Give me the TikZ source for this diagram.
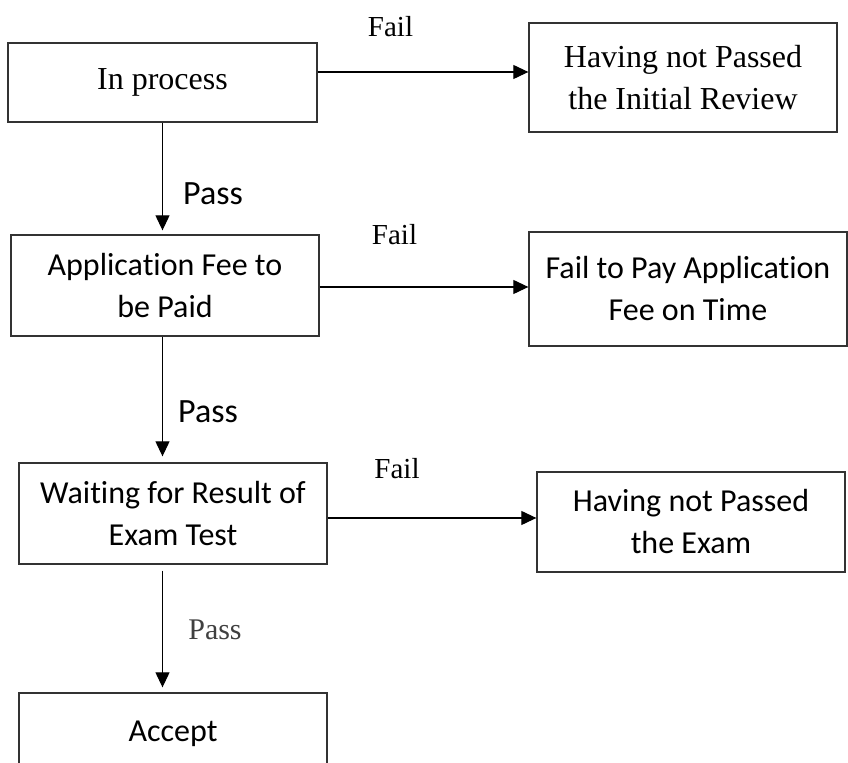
\documentclass[tikz,border=0pt]{standalone}
\usepackage{fontspec}
\setmainfont{Liberation Serif}
\newfontfamily\calibri[RawFeature={-liga;-clig;-calt}]{Carlito}
\usetikzlibrary{arrows.meta}
\begin{document}
\begin{tikzpicture}[x=.5pt,y=-.5pt,
	box/.style={draw=black!80,line width=.65pt,minimum width=154pt,inner sep=0pt,align=center,font=\fontsize{16}{21}\selectfont},
	sbox/.style={box,font=\calibri\fontsize{16}{21}\selectfont},
	arr/.style={-{Triangle[length=7.5pt,width=7pt]},line width=.55pt},
	lbl/.style={font=\fontsize{14.5}{17}\selectfont},
	slbl/.style={font=\calibri\fontsize{17}{20}\selectfont}]
	\useasboundingbox(0,0)rectangle(848,763);
	\node[box,minimum width=154.5pt,minimum height=39.5pt](proc)at(162.5,82.5){In process};
	\node[box,minimum height=54.5pt](norev)at(683,77.5){Having not Passed\\the Initial Review};
	\node[sbox,minimum height=50.5pt](fee)at(165,285.5){Application Fee to\\be Paid};
	\node[sbox,minimum width=159pt,minimum height=57pt](nofee)at(688,289){Fail to Pay Application\\Fee on Time};
	\node[sbox,minimum height=50.5pt](wait)at(173,513.5){Waiting for Result of\\Exam Test};
	\node[sbox,minimum height=50pt](noexam)at(691,522){Having not Passed\\the Exam};
	\node[sbox,minimum height=42pt](acc)at(173,735){\raisebox{4pt}{Accept}};
	\draw[arr](proc.east|-0,72)--(norev.west|-0,72);
	\draw[arr](fee.east|-0,287)--(nofee.west|-0,287);
	\draw[arr](wait.east|-0,518)--(noexam.west|-0,518);
	\draw[arr](proc.south)--([yshift=2pt]proc.south|-fee.north);
	\draw[arr](proc.south|-fee.south)--([yshift=3pt]proc.south|-wait.north);
	\draw[arr]([yshift=-3pt]proc.south|-wait.south)--([yshift=2.5pt]proc.south|-acc.north);
	\node[lbl](fail1)at(390.5,26.5){Fail};
	\node[lbl](fail2)at(394.5,235){Fail};
	\node[lbl](fail3)at(397,469){Fail};
	\node[slbl](pass1)at(213,194){Pass};
	\node[slbl](pass2)at(208,411.5){Pass};
	\node[lbl,font=\fontsize{15}{18}\selectfont,text=black!75](pass3)at(215,630){Pass};
\end{tikzpicture}
\end{document}
